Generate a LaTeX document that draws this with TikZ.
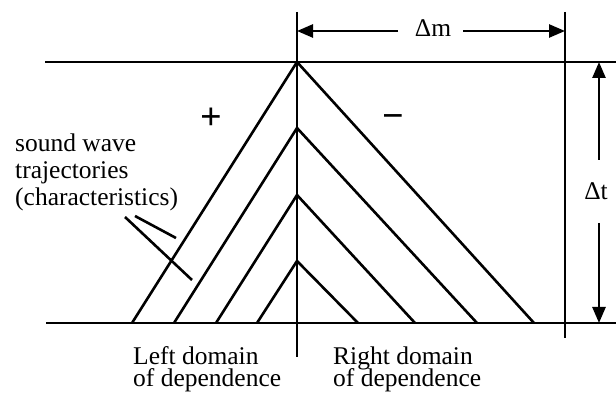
\documentclass[tikz,border=0pt]{standalone}
\usepackage{fontspec}
\setmainfont{Liberation Serif}
\usetikzlibrary{arrows.meta}
\tikzset{
  ln/.style={line width=2.6pt},
  dim/.style={line width=2.6pt,-{Triangle[length=16pt,width=13pt]}},
  lbl/.style={inner sep=0pt,anchor=base west,font=\fontsize{25.5}{27}\selectfont},
  sym/.style={inner sep=0pt,anchor=base,font=\fontsize{25.5}{27}\selectfont},
  sgn/.style={inner sep=0pt,anchor=center,font=\fontsize{38}{38}\selectfont\bfseries}
}
\begin{document}
\begin{tikzpicture}[x=1pt,y=-1pt]
\useasboundingbox (0,0) rectangle (616,395);
% frame lines
\coordinate (tl) at (45,62);   \coordinate (tr) at (616,62);
\coordinate (bl) at (46,323);  \coordinate (br) at (616,323);
\coordinate (cT) at (297,12);  \coordinate (cB) at (297,357);
\coordinate (rT) at (565,12);  \coordinate (rB) at (565,338);
\draw[ln] (tl) -- (tr);
\draw[ln] (bl) -- (br);
\draw[ln] (cT) -- (cB);
\draw[ln] (rT) -- (rB);
% apexes
\coordinate (a1) at (297,62);
\coordinate (a2) at (297,128);
\coordinate (a3) at (297,195);
\coordinate (a4) at (297,261);
% bottom feet
\coordinate (l1) at (132,323); \coordinate (r1) at (534,323);
\coordinate (l2) at (174,323); \coordinate (r2) at (477,323);
\coordinate (l3) at (216,323); \coordinate (r3) at (415,323);
\coordinate (l4) at (257,323); \coordinate (r4) at (358,323);
\draw[ln] (l1) -- (a1) -- (r1);
\draw[ln] (l2) -- (a2) -- (r2);
\draw[ln] (l3) -- (a3) -- (r3);
\draw[ln] (l4) -- (a4) -- (r4);
% leader lines
\coordinate (p1) at (125,217); \coordinate (q1) at (192,280);
\coordinate (p2) at (135,216); \coordinate (q2) at (176,238);
\draw[ln] (p1) -- (q1);
\draw[ln] (p2) -- (q2);
% dimension delta m
\node[sym] (dm) at (433,37) {Δm};
\coordinate (dmL) at (398,31); \coordinate (dmR) at (463,31);
\coordinate (dmLt) at (297,31); \coordinate (dmRt) at (565,31);
\draw[dim] (dmL) -- (dmLt);
\draw[dim] (dmR) -- (dmRt);
% dimension delta t
\node[sym] (dt) at (596,200) {Δt};
\coordinate (dtT) at (599,160); \coordinate (dtB) at (599,223);
\coordinate (dtTt) at (599,62); \coordinate (dtBt) at (599,323);
\draw[dim] (dtT) -- (dtTt);
\draw[dim] (dtB) -- (dtBt);
% signs
\node[sgn] (plus) at (211,119) {+};
\node[sgn] (minus) at (393,122) {−};
% labels
\node[lbl] (s1) at (15,152) {sound wave};
\node[lbl] (s2) at (15,179) {trajectories};
\node[lbl] (s3) at (15,206) {(characteristics)};
\node[lbl] (ld1) at (133,364) {Left domain};
\node[lbl] (ld2) at (133,387) {of dependence};
\node[lbl] (rd1) at (333,364) {Right domain};
\node[lbl] (rd2) at (333,387) {of dependence};
\end{tikzpicture}
\end{document}
